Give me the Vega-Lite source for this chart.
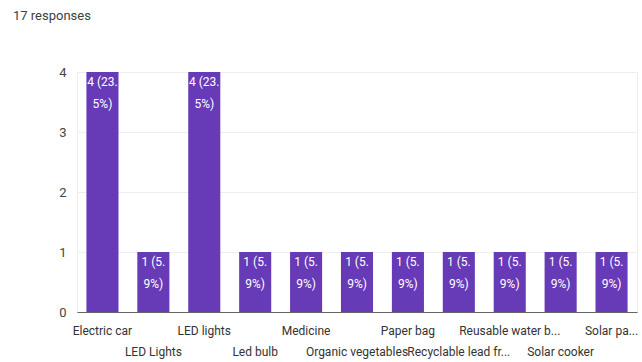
{
  "$schema": "https://vega.github.io/schema/vega-lite/v6.json",
  "width": 560,
  "height": 240,
  "autosize": "none",
  "padding": {"left": 77, "top": 72, "right": 5, "bottom": 50},
  "background": "white",
  "title": {
    "text": "17 responses",
    "anchor": "start",
    "frame": "group",
    "dx": -64,
    "offset": 43,
    "fontSize": 13,
    "fontWeight": "normal",
    "color": "#3c4043",
    "font": "Roboto"
  },
  "config": {
    "view": {"stroke": "#eeeeee"},
    "font": "Roboto"
  },
  "data": {
    "values": [
      {"option": "Electric car", "count": 4},
      {"option": "LED Lights", "count": 1},
      {"option": "LED lights", "count": 4},
      {"option": "Led bulb", "count": 1},
      {"option": "Medicine", "count": 1},
      {"option": "Organic vegetables", "count": 1},
      {"option": "Paper bag", "count": 1},
      {"option": "Recyclable lead fr...", "count": 1},
      {"option": "Reusable water b...", "count": 1},
      {"option": "Solar cooker", "count": 1},
      {"option": "Solar pa...", "count": 1}
    ]
  },
  "transform": [
    {"calculate": "format(datum.count / 17 * 100, '.1f')", "as": "pct"},
    {"calculate": "[datum.count + ' (' + split(datum.pct, '.')[0] + '.', split(datum.pct, '.')[1] + '%)']", "as": "barText"}
  ],
  "encoding": {
    "x": {
      "field": "option",
      "type": "nominal",
      "sort": null,
      "title": null,
      "scale": {"paddingInner": 0.37, "paddingOuter": 0.185},
      "axis": {
        "labelAngle": 0,
        "labelFont": "Roboto",
        "labelFontSize": 12,
        "labelColor": "#333333",
        "labelPadding": 13,
        "labelOverlap": false,
        "labelLimit": 200,
        "labelLineHeight": 21,
        "labelBaseline": "top",
        "labelExpr": "indexof(['LED Lights', 'Led bulb', 'Organic vegetables', 'Recyclable lead fr...', 'Solar cooker'], datum.value) >= 0 ? ['', datum.label] : datum.label",
        "ticks": false,
        "domainColor": "#666666",
        "domainWidth": 1.2
      }
    }
  },
  "layer": [
    {
      "mark": {"type": "bar", "color": "#673ab7"},
      "encoding": {
        "y": {
          "field": "count",
          "type": "quantitative",
          "title": null,
          "scale": {"domain": [0, 4], "nice": false},
          "axis": {
            "values": [0, 0.5, 1, 1.5, 2, 2.5, 3, 3.5, 4],
            "labelExpr": "datum.value % 1 === 0 ? format(datum.value, 'd') : ''",
            "labelFont": "Roboto",
            "labelFontSize": 13,
            "labelColor": "#444444",
            "labelPadding": 11,
            "ticks": false,
            "domain": false,
            "gridColor": "#eeeeee",
            "gridWidth": 1
          }
        }
      }
    },
    {
      "mark": {
        "type": "text",
        "color": "white",
        "font": "Roboto",
        "fontSize": 12,
        "baseline": "top",
        "align": "center",
        "dy": 5,
        "lineHeight": 22
      },
      "encoding": {
        "y": {"field": "count", "type": "quantitative"},
        "text": {"field": "barText"}
      }
    }
  ]
}
